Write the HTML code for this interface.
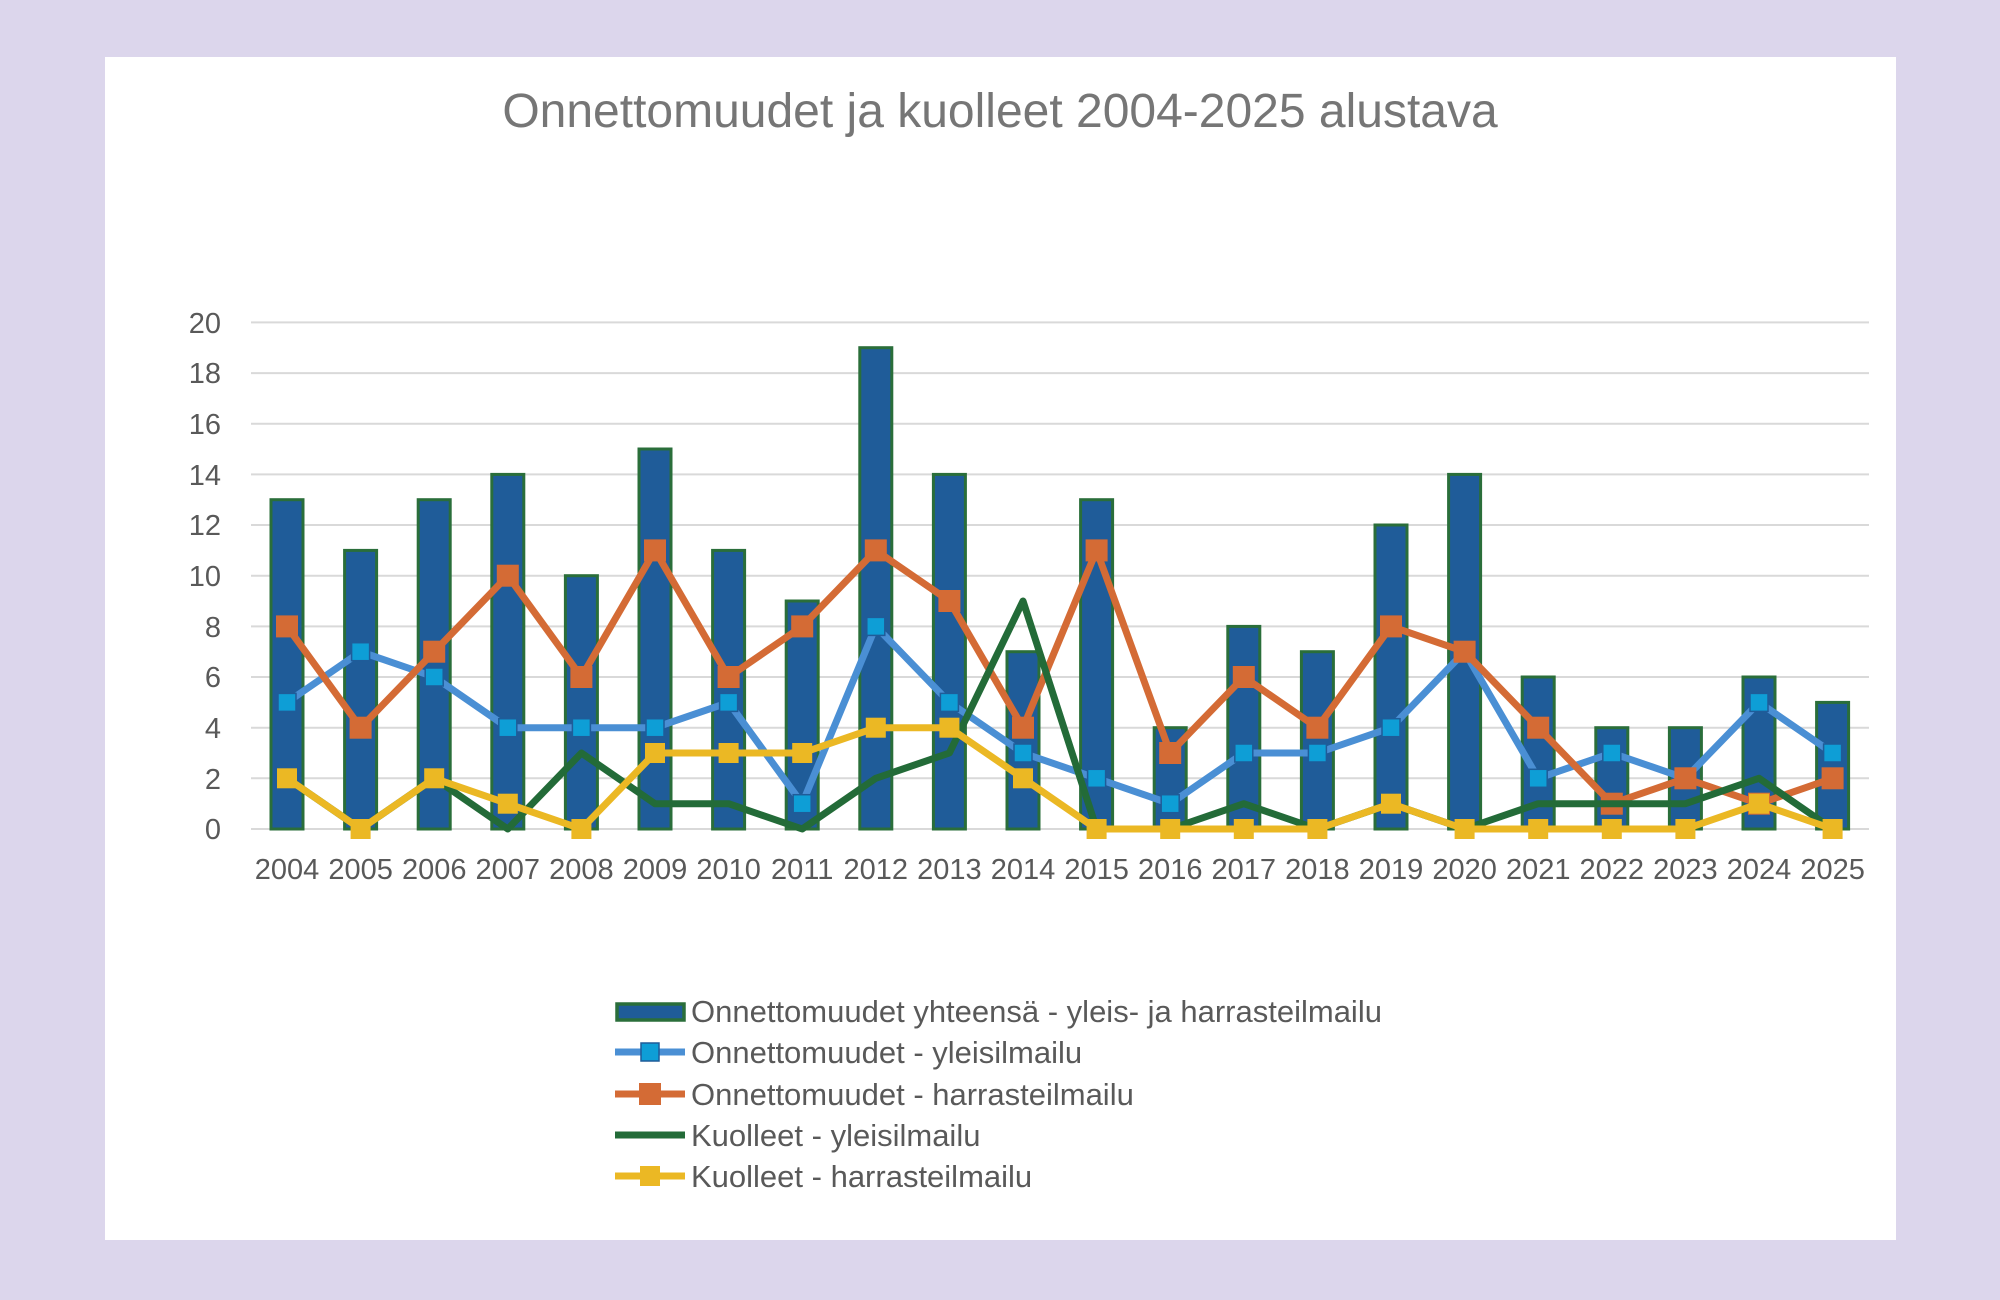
<!DOCTYPE html>
<html><head><meta charset="utf-8"><style>
html,body{margin:0;padding:0;background:#DCD6EC;}
svg{display:block;font-family:"Liberation Sans",sans-serif;}
</style></head><body>
<svg width="2000" height="1300" viewBox="0 0 2000 1300" xmlns="http://www.w3.org/2000/svg">
<defs>
<marker id="mb" markerUnits="userSpaceOnUse" markerWidth="22" markerHeight="22" refX="11" refY="11"><rect x="2" y="2" width="18" height="18" fill="#0E9ED6" stroke="#1F5C99" stroke-width="1.5"/></marker>
<marker id="mo" markerUnits="userSpaceOnUse" markerWidth="24" markerHeight="24" refX="12" refY="12"><rect x="1" y="1" width="22" height="22" fill="#D46B35"/></marker>
<marker id="my" markerUnits="userSpaceOnUse" markerWidth="22" markerHeight="22" refX="11" refY="11"><rect x="1" y="1" width="20" height="20" fill="#EBB824"/></marker>
</defs>
<rect x="105" y="57" width="1791" height="1183" fill="#fff"/>
<text x="1000" y="127" text-anchor="middle" font-size="48" fill="#767676">Onnettomuudet ja kuolleet 2004-2025 alustava</text>
<g stroke="#D9D9D9" stroke-width="2">
<line x1="251" x2="1869" y1="322.4" y2="322.4"/><line x1="251" x2="1869" y1="373.1" y2="373.1"/><line x1="251" x2="1869" y1="423.7" y2="423.7"/><line x1="251" x2="1869" y1="474.4" y2="474.4"/><line x1="251" x2="1869" y1="525" y2="525"/><line x1="251" x2="1869" y1="575.7" y2="575.7"/><line x1="251" x2="1869" y1="626.4" y2="626.4"/><line x1="251" x2="1869" y1="677" y2="677"/><line x1="251" x2="1869" y1="727.7" y2="727.7"/><line x1="251" x2="1869" y1="778.3" y2="778.3"/><line x1="251" x2="1869" y1="829" y2="829"/>
</g>
<g font-size="29" fill="#595959" text-anchor="end">
<text x="221" y="333">20</text><text x="221" y="383">18</text><text x="221" y="434">16</text><text x="221" y="485">14</text><text x="221" y="535">12</text><text x="221" y="586">10</text><text x="221" y="637">8</text><text x="221" y="687">6</text><text x="221" y="738">4</text><text x="221" y="789">2</text><text x="221" y="839">0</text>
</g>
<g fill="#1F5C99" stroke="#2A6E3A" stroke-width="3">
<rect x="271" y="499.7" width="32" height="329.3"/><rect x="344.6" y="550.4" width="32" height="278.6"/><rect x="418.2" y="499.7" width="32" height="329.3"/><rect x="491.8" y="474.4" width="32" height="354.6"/><rect x="565.4" y="575.7" width="32" height="253.3"/><rect x="639" y="449" width="32" height="380"/><rect x="712.6" y="550.4" width="32" height="278.6"/><rect x="786.2" y="601" width="32" height="228"/><rect x="859.8" y="347.7" width="32" height="481.3"/><rect x="933.4" y="474.4" width="32" height="354.6"/><rect x="1007" y="651.7" width="32" height="177.3"/><rect x="1080.6" y="499.7" width="32" height="329.3"/><rect x="1154.2" y="727.7" width="32" height="101.3"/><rect x="1227.8" y="626.4" width="32" height="202.6"/><rect x="1301.4" y="651.7" width="32" height="177.3"/><rect x="1375" y="525" width="32" height="304"/><rect x="1448.6" y="474.4" width="32" height="354.6"/><rect x="1522.2" y="677" width="32" height="152"/><rect x="1595.8" y="727.7" width="32" height="101.3"/><rect x="1669.4" y="727.7" width="32" height="101.3"/><rect x="1743" y="677" width="32" height="152"/><rect x="1816.6" y="702.4" width="32" height="126.6"/>
</g>
<g fill="none" stroke-width="7" stroke-linejoin="round">
<polyline stroke="#4A8FD4" marker-start="url(#mb)" marker-mid="url(#mb)" marker-end="url(#mb)" points="287,702.4 360.6,651.7 434.2,677 507.8,727.7 581.4,727.7 655,727.7 728.6,702.4 802.2,803.7 875.8,626.4 949.4,702.4 1023,753 1096.6,778.3 1170.2,803.7 1243.8,753 1317.4,753 1391,727.7 1464.6,651.7 1538.2,778.3 1611.8,753 1685.4,778.3 1759,702.4 1832.6,753"/>
<polyline stroke="#D46B35" marker-start="url(#mo)" marker-mid="url(#mo)" marker-end="url(#mo)" points="287,626.4 360.6,727.7 434.2,651.7 507.8,575.7 581.4,677 655,550.4 728.6,677 802.2,626.4 875.8,550.4 949.4,601 1023,727.7 1096.6,550.4 1170.2,753 1243.8,677 1317.4,727.7 1391,626.4 1464.6,651.7 1538.2,727.7 1611.8,803.7 1685.4,778.3 1759,803.7 1832.6,778.3"/>
<polyline stroke="#236B38" points="287,778.3 360.6,829 434.2,778.3 507.8,829 581.4,753 655,803.7 728.6,803.7 802.2,829 875.8,778.3 949.4,753 1023,601 1096.6,829 1170.2,829 1243.8,803.7 1317.4,829 1391,803.7 1464.6,829 1538.2,803.7 1611.8,803.7 1685.4,803.7 1759,778.3 1832.6,829"/>
<polyline stroke="#EBB824" marker-start="url(#my)" marker-mid="url(#my)" marker-end="url(#my)" points="287,778.3 360.6,829 434.2,778.3 507.8,803.7 581.4,829 655,753 728.6,753 802.2,753 875.8,727.7 949.4,727.7 1023,778.3 1096.6,829 1170.2,829 1243.8,829 1317.4,829 1391,803.7 1464.6,829 1538.2,829 1611.8,829 1685.4,829 1759,803.7 1832.6,829"/>
</g>
<g font-size="29" fill="#595959" text-anchor="middle">
<text x="287" y="879">2004</text><text x="360.6" y="879">2005</text><text x="434.2" y="879">2006</text><text x="507.8" y="879">2007</text><text x="581.4" y="879">2008</text><text x="655" y="879">2009</text><text x="728.6" y="879">2010</text><text x="802.2" y="879">2011</text><text x="875.8" y="879">2012</text><text x="949.4" y="879">2013</text><text x="1023" y="879">2014</text><text x="1096.6" y="879">2015</text><text x="1170.2" y="879">2016</text><text x="1243.8" y="879">2017</text><text x="1317.4" y="879">2018</text><text x="1391" y="879">2019</text><text x="1464.6" y="879">2020</text><text x="1538.2" y="879">2021</text><text x="1611.8" y="879">2022</text><text x="1685.4" y="879">2023</text><text x="1759" y="879">2024</text><text x="1832.6" y="879">2025</text>
</g>
<rect x="617" y="1004" width="67" height="16" fill="#1F5C99" stroke="#2A6E3A" stroke-width="3.5"/>
<polyline points="615,1052 650,1052 685,1052" fill="none" stroke="#4A8FD4" stroke-width="7" marker-mid="url(#mb)"/>
<polyline points="615,1094 650,1094 685,1094" fill="none" stroke="#D46B35" stroke-width="7" marker-mid="url(#mo)"/>
<line x1="615" x2="685" y1="1135" y2="1135" stroke="#236B38" stroke-width="7"/>
<polyline points="615,1176 650,1176 685,1176" fill="none" stroke="#EBB824" stroke-width="7" marker-mid="url(#my)"/>
<g font-size="31" fill="#595959">
<text x="691" y="1022">Onnettomuudet yhteensä - yleis- ja harrasteilmailu</text>
<text x="691" y="1063">Onnettomuudet - yleisilmailu</text>
<text x="691" y="1105">Onnettomuudet - harrasteilmailu</text>
<text x="691" y="1146">Kuolleet - yleisilmailu</text>
<text x="691" y="1187">Kuolleet - harrasteilmailu</text>
</g>
</svg>
</body></html>
